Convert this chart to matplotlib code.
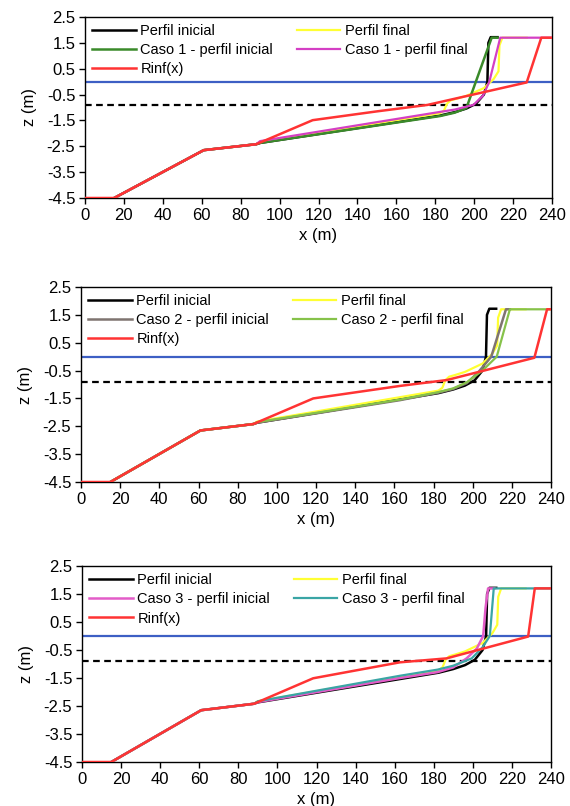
import matplotlib
matplotlib.use("Agg")
import matplotlib.pyplot as plt

plt.rcParams['font.family'] = ['Liberation Sans', 'DejaVu Sans']

# ---------------- data ----------------
x_ticks = list(range(0, 241, 20))
z_ticks = [-4.5, -3.5, -2.5, -1.5, -0.5, 0.5, 1.5, 2.5]

# shared profiles
pi_x = [15, 61, 88, 90, 182.5, 190, 196, 201, 205, 206.8, 207.3, 208.5, 212]
pi_z = [-4.5, -2.65, -2.42, -2.37, -1.31, -1.18, -1.04, -0.85, -0.5, 0.0, 1.5, 1.72, 1.72]

pf_x = [15, 61, 88, 90, 182.5, 184.5, 186, 188, 191, 196, 205, 210, 212.5, 213, 214.5, 227]
pf_z = [-4.5, -2.65, -2.42, -2.33, -1.22, -1.12, -0.85, -0.72, -0.66, -0.55, -0.25, 0.1, 0.4, 1.4, 1.7, 1.7]

# case 1
c1i_x = [15, 61, 88, 90, 182.5, 190, 196, 209, 212]
c1i_z = [-4.5, -2.65, -2.42, -2.37, -1.33, -1.2, -1.02, 1.7, 1.7]
c1f_x = [15, 61, 88, 90, 182.5, 190, 199.6, 204.5, 207.8, 213.4, 240]
c1f_z = [-4.5, -2.65, -2.42, -2.3, -1.17, -1.08, -0.9, -0.55, 0.0, 1.7, 1.7]
r1_x = [0, 15, 61, 88, 117, 150, 176, 227, 234.5, 240]
r1_z = [-4.5, -4.5, -2.65, -2.42, -1.49, -1.15, -0.9, -0.03, 1.7, 1.7]

# case 2
c2i_x = [15, 61, 88, 90, 163, 182, 190, 197, 203, 209.5, 217, 219]
c2i_z = [-4.5, -2.65, -2.42, -2.37, -1.56, -1.3, -1.16, -0.95, -0.55, 0.0, 1.7, 1.7]
c2f_x = [15, 61, 88, 90, 163, 182, 190, 197, 205, 212.3, 219, 240]
c2f_z = [-4.5, -2.65, -2.42, -2.35, -1.54, -1.28, -1.14, -0.92, -0.5, 0.0, 1.7, 1.7]
r2_x = [0, 15, 61, 88, 118.6, 163, 186.8, 231.5, 238, 240]
r2_z = [-4.5, -4.5, -2.65, -2.42, -1.5, -1.05, -0.84, -0.04, 1.7, 1.7]

# case 3
c3i_x = [15, 61, 88, 90, 162.7, 182, 190, 196.8, 202, 205.3, 206.5, 207.8, 211]
c3i_z = [-4.5, -2.65, -2.42, -2.36, -1.5, -1.29, -1.12, -0.8, -0.45, 0.0, 1.0, 1.7, 1.7]
c3f_x = [15, 61, 88, 90, 162.7, 182, 190, 199.4, 205, 208.7, 210.7, 240]
c3f_z = [-4.5, -2.65, -2.42, -2.33, -1.42, -1.2, -1.06, -0.8, -0.4, 0.0, 1.7, 1.7]
r3_x = [0, 15, 61, 88, 118.3, 162.7, 186.5, 228.3, 231.7, 240]
r3_z = [-4.5, -4.5, -2.65, -2.42, -1.51, -0.94, -0.8, -0.02, 1.7, 1.7]

sea_level = 0.0
ref_level = -0.9

cases = [
    dict(n=1, ix=c1i_x, iz=c1i_z, fx=c1f_x, fz=c1f_z, rx=r1_x, rz=r1_z,
         ic='#3a8a2a', fc='#d43fc4'),
    dict(n=2, ix=c2i_x, iz=c2i_z, fx=c2f_x, fz=c2f_z, rx=r2_x, rz=r2_z,
         ic='#7f7470', fc='#86c24a'),
    dict(n=3, ix=c3i_x, iz=c3i_z, fx=c3f_x, fz=c3f_z, rx=r3_x, rz=r3_z,
         ic='#e35cc8', fc='#3aa5a5'),
]

# ---------------- figure ----------------
W, H = 570, 806
fig = plt.figure(figsize=(W / 100, H / 100), dpi=100)

boxes = [(85, 552, 17, 198), (81, 551, 287, 482), (82, 551, 566, 762)]

for case, (l, r, t, b) in zip(cases, boxes):
    ax = fig.add_axes([l / W, 1 - b / H, (r - l) / W, (b - t) / H])
    ax.axhline(sea_level, color='#3d5fc4', lw=1.6, zorder=1)
    ax.axhline(ref_level, color='black', lw=1.6, ls=(0, (3, 2)), zorder=1)
    h_pi, = ax.plot(pi_x, pi_z, color='black', lw=1.8, zorder=2, label='Perfil inicial')
    h_pf, = ax.plot(pf_x, pf_z, color='#ffff33', lw=1.6, zorder=3, label='Perfil final')
    h_ci, = ax.plot(case['ix'], case['iz'], color=case['ic'], lw=1.8, zorder=4,
                    label=f"Caso {case['n']} - perfil inicial")
    h_cf, = ax.plot(case['fx'], case['fz'], color=case['fc'], lw=1.6, zorder=5,
                    label=f"Caso {case['n']} - perfil final")
    h_r, = ax.plot(case['rx'], case['rz'], color='#ff3333', lw=1.8, zorder=6, label='Rinf(x)')

    ax.set_xlim(0, 240)
    ax.set_ylim(-4.5, 2.5)
    ax.set_xticks(x_ticks)
    ax.set_yticks(z_ticks)
    ax.set_yticklabels([f"{v:.1f}" for v in z_ticks])
    ax.tick_params(direction='out', length=4, width=1, labelsize=12, pad=3)
    for s in ax.spines.values():
        s.set_linewidth(1.0)
    ax.set_xlabel('x (m)', fontsize=12, labelpad=4)
    ax.set_ylabel('z (m)', fontsize=12, labelpad=7)

    leg = ax.legend(handles=[h_pi, h_ci, h_r, h_pf, h_cf], ncol=2, loc='upper left',
                    bbox_to_anchor=(0.0, 1.0), frameon=False, fontsize=10.5,
                    handlelength=3.0, handletextpad=0.3, columnspacing=1.6,
                    labelspacing=0.35, borderaxespad=0.3, borderpad=0.2)

fig.savefig('out.png', dpi=100)
